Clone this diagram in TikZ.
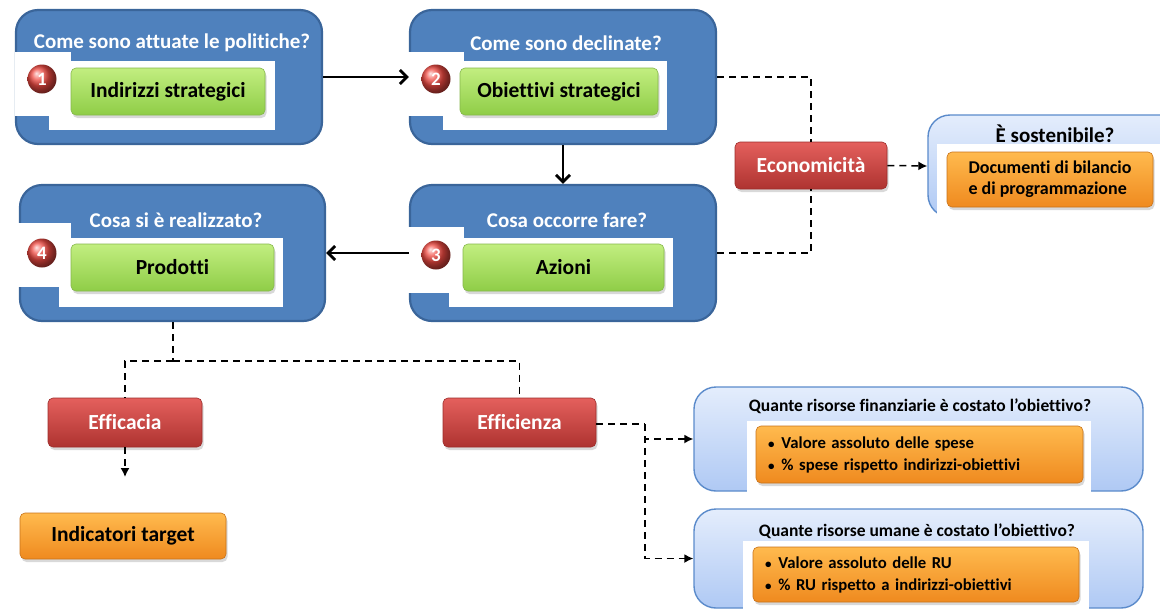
\documentclass[tikz,border=0pt]{standalone}
\usepackage{fontspec}
\setmainfont[Ligatures=NoCommon]{Carlito}
\usetikzlibrary{arrows.meta,shadows}
\definecolor{bbfill}{HTML}{4F81BD}
\definecolor{bbdraw}{HTML}{3A659A}
\definecolor{grtop}{HTML}{C2EE80}
\definecolor{grbot}{HTML}{8FCD47}
\definecolor{grdraw}{HTML}{86B84C}
\definecolor{rdtop}{HTML}{E4605D}
\definecolor{rdbot}{HTML}{AE3330}
\definecolor{rddraw}{HTML}{9C2C2A}
\definecolor{ortop}{HTML}{FFBA4E}
\definecolor{orbot}{HTML}{EF8A1F}
\definecolor{ordraw}{HTML}{C8731A}
\definecolor{lbtop}{HTML}{E4EDFC}
\definecolor{lbbot}{HTML}{AFC9F4}
\definecolor{lbdraw}{HTML}{5B8BCB}
\definecolor{badgered}{HTML}{F04A42}

\newcommand{\blt}{{\fontsize{13}{13}\selectfont\textbullet}\hspace{7pt}}

\begin{document}
\begin{tikzpicture}[x=1pt,y=-1pt,
  bigbox/.style={draw=bbdraw,line width=2.2pt,fill=bbfill,rounded corners=22pt,inner sep=0pt},
  lightbox/.style={draw=lbdraw,line width=1.4pt,top color=lbtop,bottom color=lbbot,rounded corners=22pt,inner sep=0pt},
  greenbtn/.style={draw=grdraw,line width=0.6pt,top color=grtop,bottom color=grbot,rounded corners=5pt,
    minimum height=47pt,inner sep=0pt,font=\fontsize{21.5}{24}\selectfont\bfseries,
    drop shadow={opacity=0.3,shadow xshift=1.5pt,shadow yshift=-3pt}},
  redbtn/.style={draw=rddraw,line width=0.6pt,top color=rdtop,bottom color=rdbot,rounded corners=5pt,
    inner sep=0pt,text=white,font=\fontsize{21.5}{24}\selectfont\bfseries,
    drop shadow={opacity=0.3,shadow xshift=1.5pt,shadow yshift=-3pt}},
  orangebtn/.style={draw=ordraw,line width=0.6pt,top color=ortop,bottom color=orbot,rounded corners=5pt,
    inner sep=0pt,drop shadow={opacity=0.3,shadow xshift=1.5pt,shadow yshift=-3pt}},
  badge/.style={circle,ball color=badgered,minimum size=29pt,inner sep=0pt,text=white,
    font=\fontsize{19}{19}\selectfont\bfseries},
  boxtitle/.style={text=white,font=\fontsize{21}{24}\selectfont\bfseries},
  darktitle/.style={text=black,font=\fontsize{17.5}{20}\selectfont\bfseries},
  flow/.style={line width=2.8pt,-{Straight Barb[length=7pt,width=14pt]}},
  link/.style={line width=1.5pt,dash pattern=on 7pt off 5pt},
  linkarrow/.style={link,-{Latex[length=9pt,width=9pt]}}]
\useasboundingbox (0,0) rectangle (1160,611);

% the four steps
\node[bigbox,minimum width=306pt,minimum height=134pt] (politiche) at (169,77) {};
\node[bigbox,minimum width=306pt,minimum height=134pt] (declinate) at (563,77) {};
\node[bigbox,minimum width=306pt,minimum height=136pt] (fare) at (563,253) {};
\node[bigbox,minimum width=305pt,minimum height=136pt] (realizzato) at (172.5,253) {};

% white panels behind buttons
\fill[white] (49,61) rectangle (275,130);
\fill[white] (15,52) rectangle (71,116);
\fill[white] (443,61) rectangle (667,130);
\fill[white] (408,52) rectangle (464,116);
\fill[white] (449,238) rectangle (673,307);
\fill[white] (408,227) rectangle (464,293);
\fill[white] (59,238) rectangle (283,307);
\fill[white] (18,223) rectangle (71,287);

\node[boxtitle] (t1) at (172,43) {Come sono attuate le politiche?};
\node[boxtitle] (t2) at (566,43) {Come sono declinate?};
\node[boxtitle] (t3) at (567,220) {Cosa occorre fare?};
\node[boxtitle] (t4) at (176,220) {Cosa si è realizzato?};

\node[greenbtn,minimum width=194pt] (indirizzi) at (168,91.5) {Indirizzi strategici};
\node[greenbtn,minimum width=198pt] (obiettivi) at (559,91.5) {Obiettivi strategici};
\node[greenbtn,minimum width=201pt] (azioni) at (563.5,267.5) {Azioni};
\node[greenbtn,minimum width=203pt] (prodotti) at (172.5,267.5) {Prodotti};

\node[badge] (n1) at (42,79) {1};
\node[badge] (n2) at (436,79) {2};
\node[badge] (n3) at (436,255) {3};
\node[badge] (n4) at (42,253) {4};

% sostenibilita
\node[redbtn,minimum width=152pt,minimum height=47pt] (econ) at (811,165.5) {Economicità};
\node[lightbox,minimum width=262pt,minimum height=102pt] (sost) at (1059,166) {};
\fill[white] (937,144) rectangle (1160,226);
\node[darktitle,font=\fontsize{21}{24}\selectfont\bfseries] (tsost) at (1055,134) {È sostenibile?};
\node[orangebtn,minimum width=206pt,minimum height=55pt,align=left,
  font=\fontsize{18}{21}\selectfont\bfseries] (docs) at (1050,179.5) {Documenti di bilancio\\e di programmazione};

% efficacia / efficienza
\node[redbtn,minimum width=154pt,minimum height=49pt] (efficacia) at (125,422.5) {Efficacia};
\node[redbtn,minimum width=153pt,minimum height=49pt] (efficienza) at (519.5,422.5) {Efficienza};
\node[orangebtn,minimum width=206pt,minimum height=46pt,font=\fontsize{21.5}{24}\selectfont\bfseries] (target) at (123,536) {Indicatori target};

\node[lightbox,minimum width=449pt,minimum height=104pt] (finanz) at (918.5,439) {};
\fill[white] (747,421) rectangle (1091,500);
\node[darktitle] (tfin) at (920,406) {Quante risorse finanziarie è costato l’obiettivo?};
\node[orangebtn,minimum width=327pt,minimum height=57pt,text width=303pt,inner xsep=12pt,align=left,
  font=\fontsize{16.7}{22}\selectfont\bfseries] (spese) at (919.5,454.5)
  {\blt Valore assoluto delle spese\\\blt\% spese rispetto indirizzi-obiettivi};

\node[lightbox,minimum width=449pt,minimum height=99pt] (umane) at (918.5,558.5) {};
\fill[white] (743,541) rectangle (1089,611);
\node[darktitle] (tru) at (917,531) {Quante risorse umane è costato l’obiettivo?};
\node[orangebtn,minimum width=326pt,minimum height=55pt,text width=302pt,inner xsep=12pt,align=left,
  font=\fontsize{16.7}{22}\selectfont\bfseries] (ru) at (916,574.5)
  {\blt Valore assoluto delle RU\\\blt\% RU rispetto a indirizzi-obiettivi};

% connectors
\draw[flow] (politiche.east) -- (declinate.west);
\draw[flow] (declinate.south) -- (fare.north);
\draw[flow] (fare.west) -- (realizzato.east);
\draw[link] (declinate.east) -| (econ.north);
\draw[link] (fare.east) -| (econ.south);
\draw[linkarrow] (econ.east) -- (sost.west);
\coordinate (split) at (173,361);
\draw[link] (realizzato.south -| split) -- (split);
\draw[link] (split) -| (efficacia.north);
\draw[link] (split) -| (efficienza.north);
\coordinate (efftip) at (125,477);
\draw[linkarrow] (efficacia.south) -- (efftip);
\coordinate (fork) at (645,424);
\draw[link] (efficienza.east |- fork) -- (fork);
\draw[linkarrow] (fork) |- (finanz.west);
\draw[linkarrow] (fork) |- (umane.west);
\end{tikzpicture}
\end{document}
